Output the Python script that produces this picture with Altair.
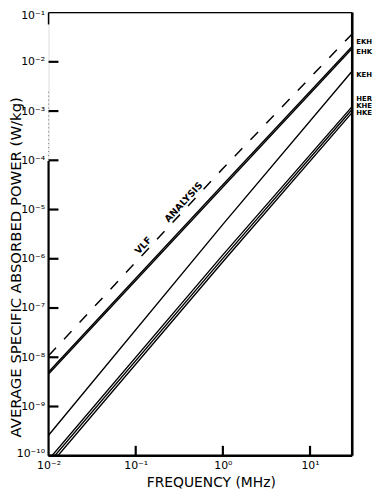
import altair as alt
import pandas as pd

# ---- data (frequency in MHz, power in W/kg) ----
freq = [0.01, 1.0, 30.0]

vlf_analysis = [1.07e-8, 6.8e-5, 3.6e-2]
ekh = [5.0e-9, 3.2e-5, 2.0e-2]
ehk = [4.57e-9, 2.88e-5, 1.82e-2]
keh = [2.6e-10, 5.0e-6, 6.3e-3]
her = [8.3e-11, 1.2e-6, 1.2e-3]
khe = [7.1e-11, 1.02e-6, 1.05e-3]
hke = [6.0e-11, 8.7e-7, 9.1e-4]

series_names = ["EKH", "EHK", "KEH", "HER", "KHE", "HKE"]
series_values = [ekh, ehk, keh, her, khe, hke]

x_ticks = [0.01, 0.1, 1, 10]
x_tick_labels = ["10⁻²", "10⁻¹", "10⁰", "10¹"]
y_ticks = [1e-10, 1e-9, 1e-8, 1e-7, 1e-6, 1e-5, 1e-4, 1e-3, 1e-2, 1e-1]
y_tick_labels = ["10⁻¹⁰", "10⁻⁹", "10⁻⁸", "10⁻⁷", "10⁻⁶", "10⁻⁵",
                 "10⁻⁴", "10⁻³", "10⁻²", "10⁻¹"]

vlf_words = ["VLF", "ANALYSIS"]
vlf_word_f = [0.1368, 0.397]
vlf_word_p = [1.54e-6, 1.17e-5]

# ---- layout / style ----
W, H = 307, 448
FONT = "DejaVu Sans"
label_dy = [-5, 3, 3, -8, -4, -0.5]

xscale = alt.Scale(type="log", domain=[0.01, 30.5], nice=False)
yscale = alt.Scale(type="log", domain=[1e-10, 1e-1], nice=False)

rows = []
for name, vals in zip(series_names, series_values):
    for f, p in zip(freq, vals):
        rows.append({"f": f, "P": p, "s": name})
lines_df = pd.DataFrame(rows)
vlf_df = pd.DataFrame({"f": freq, "P": vlf_analysis})

x_expr = "[" + ",".join(f"'{s}'" for s in x_tick_labels) + "][round(log(datum.value)/LN10)+2]"
y_expr = "[" + ",".join(f"'{s}'" for s in y_tick_labels) + "][round(log(datum.value)/LN10)+10]"

x_axis = alt.Axis(values=x_ticks, labelExpr=x_expr, ticks=False, domain=False, grid=False,
                  labelFont=FONT, labelFontSize=11, labelColor="black", labelPadding=4,
                  labelFlush=False, labelOverlap=False,
                  title="FREQUENCY (MHz)", titleFont=FONT, titleFontSize=14,
                  titleFontWeight="normal", titleColor="black",
                  titleX=164, titleY=31, titleAlign="center", titleBaseline="alphabetic")
y_axis = alt.Axis(values=y_ticks, labelExpr=y_expr, ticks=False, domain=False, grid=False,
                  labelFont=FONT, labelFontSize=11, labelColor="black", labelPadding=4,
                  labelFlush=False, labelOverlap=False,
                  labelOffset={"condition": [{"test": "datum.value > 0.05", "value": 3},
                                             {"test": "datum.value < 2e-10", "value": -2}],
                               "value": 0},
                  title="AVERAGE SPECIFIC ABSORBED POWER (W/kg)", titleFont=FONT,
                  titleFontSize=15, titleFontWeight="normal", titleColor="black",
                  titleX=-33, titleY=257, titleAngle=270, titleAlign="center",
                  titleBaseline="middle")

X = alt.X("f:Q", scale=xscale, axis=x_axis)
Y = alt.Y("P:Q", scale=yscale, axis=y_axis)

solid = alt.Chart(lines_df).mark_line(color="black", strokeWidth=1.4, clip=True).encode(
    x=X, y=Y, detail="s:N",
)

dashed = alt.Chart(vlf_df).mark_line(color="black", strokeWidth=1.5, strokeDash=[11, 12],
                                     clip=True).encode(x=X, y=Y)

vlf_text = alt.Chart(pd.DataFrame({"f": vlf_word_f, "P": vlf_word_p, "t": vlf_words})).mark_text(
    angle=313, align="center", baseline="alphabetic", dy=-3, font=FONT, fontSize=9.5,
    fontWeight="bold", color="black"
).encode(x=X, y=Y, text="t:N")

ytick_rules = alt.Chart(pd.DataFrame({"P": y_ticks[:-1]})).mark_rule(
    color="black", strokeWidth=2.2).encode(y=Y, x=alt.value(0), x2=alt.value(10))

xtick_rules = alt.Chart(pd.DataFrame({"f": x_ticks[1:]})).mark_rule(
    color="black", strokeWidth=2.2).encode(x=X, y=alt.value(H - 10), y2=alt.value(H))

dummy = pd.DataFrame({"k": [0]})
frame = [
    alt.Chart(dummy).mark_rule(color="black", strokeWidth=1.2).encode(
        x=alt.value(0), x2=alt.value(W), y=alt.value(0)),
    alt.Chart(dummy).mark_rule(color="black", strokeWidth=2.6).encode(
        x=alt.value(W), y=alt.value(0), y2=alt.value(H)),
    alt.Chart(dummy).mark_rule(color="black", strokeWidth=2.6).encode(
        x=alt.value(0), x2=alt.value(W), y=alt.value(H)),
    alt.Chart(dummy).mark_rule(color="black", strokeWidth=2.2).encode(
        x=alt.value(0), y=alt.value(150), y2=alt.value(H)),
    alt.Chart(dummy).mark_rule(color="black", strokeWidth=1.5).encode(
        x=alt.value(0), y=alt.value(0), y2=alt.value(12)),
    alt.Chart(dummy).mark_rule(color="#777777", strokeWidth=1, strokeDash=[1, 3]).encode(
        x=alt.value(0), y=alt.value(80), y2=alt.value(150)),
]

labels = []
for name, vals, dy in zip(series_names, series_values, label_dy):
    labels.append(
        alt.Chart(pd.DataFrame({"P": [vals[-1]], "t": [name]})).mark_text(
            align="left", baseline="middle", dx=4, dy=dy, font=FONT, fontSize=7,
            fontWeight="bold", color="black"
        ).encode(x=alt.value(W), y=Y, text="t:N")
    )

chart = alt.layer(solid, dashed, vlf_text, ytick_rules, xtick_rules, *frame, *labels).properties(
    width=W, height=H,
    padding={"left": 41, "top": 2, "right": 22, "bottom": 32},
    autosize=alt.AutoSizeParams(type="none"),
).configure_view(stroke=None).configure(background="white")

chart.save("out.html", embed_options={"renderer": "svg", "actions": False})
